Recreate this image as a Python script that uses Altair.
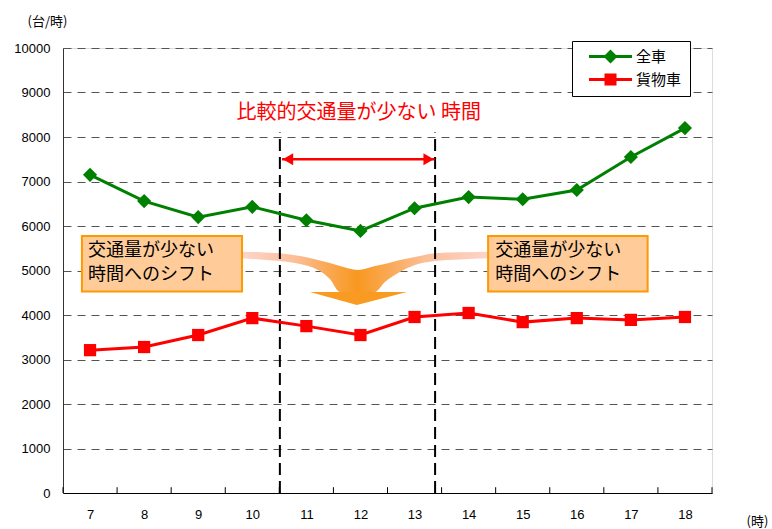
import altair as alt
import pandas as pd

# ---------------- data ----------------
hours = [7, 8, 9, 10, 11, 12, 13, 14, 15, 16, 17, 18]
all_vehicles = [7150, 6560, 6200, 6430, 6130, 5890, 6400, 6650, 6600, 6810, 7550, 8200]
freight = [3210, 3280, 3550, 3930, 3750, 3550, 3955, 4045, 3840, 3930, 3890, 3955]
series_names = ['全車', '貨物車']
series_colors = ['#008000', '#FF0000']
y_ticks = list(range(0, 10001, 1000))
tick_positions = [6.5 + k for k in range(13)]

# annotation geometry (in data units: hour / vehicles per hour)
window_hours = [10.51, 13.38]
window_top = 8100
arrow_y = 7500
arrow_from, arrow_to = 10.55, 13.37
arrow_heads = [10.66, 13.26]
label_text = '比較的交通量が少ない 時間'
label_hour, label_value = 11.97, 8540
box_lines = ['交通量が少ない', '時間へのシフト']
box_line_values = [5439, 4899]
box_x = [[6.85, 9.81], [14.36, 17.31]]
box_text_hour = [6.96, 14.49]
box_y = [4530, 5775]

band_hour = [9.809, 10.141, 10.511, 10.881, 11.213, 11.435, 11.620, 11.953,
             12.267, 12.452, 12.729, 13.006, 13.376, 13.838, 14.356]
band_top = [5422, 5411, 5387, 5326, 5236, 5169, 5101, 5011,
            5101, 5146, 5236, 5303, 5387, 5411, 5422]
band_bottom = [5274, 5247, 5213, 5146, 5011, 4809, 4517, 4517,
               4517, 4742, 4966, 5124, 5213, 5247, 5274]
head_hour = [11.066, 11.934, 12.859]
head_top = [4517, 4517, 4517]
head_bottom = [4517, 4225, 4517]

JP = 'Noto Sans CJK JP'
NUM = 'Liberation Sans'

# ---------------- tables ----------------
df = pd.DataFrame({
    'hour': hours * 2,
    'value': all_vehicles + freight,
    'series': [series_names[0]] * len(hours) + [series_names[1]] * len(hours),
})
df_all = df[df['series'] == series_names[0]]
df_fr = df[df['series'] == series_names[1]]
# legend-only rows, placed below the visible range and clipped away
legend_df = pd.DataFrame({'hour': [hours[0], hours[0]], 'value': [-5000, -5000],
                          'series': series_names})
band_df = pd.DataFrame({'hour': band_hour, 'value': band_top, 'value2': band_bottom})
head_df = pd.DataFrame({'hour': head_hour, 'value': head_top, 'value2': head_bottom})
win_df = pd.DataFrame({'hour': window_hours, 'value': [0, 0], 'value2': [window_top] * 2})
arrow_df = pd.DataFrame({'hour': [arrow_from], 'hour2': [arrow_to], 'value': [arrow_y]})
left_head_df = pd.DataFrame({'hour': [arrow_heads[0]], 'value': [arrow_y]})
right_head_df = pd.DataFrame({'hour': [arrow_heads[1]], 'value': [arrow_y]})
label_df = pd.DataFrame({'hour': [label_hour], 'value': [label_value], 'text': [label_text]})
box_df = pd.DataFrame({'hour': [b[0] for b in box_x], 'hour2': [b[1] for b in box_x],
                       'value': [box_y[0]] * 2, 'value2': [box_y[1]] * 2})
boxtext_df = pd.DataFrame({
    'hour': [h for h in box_text_hour for _ in box_lines],
    'value': box_line_values * len(box_text_hour),
    'text': box_lines * len(box_text_hour),
})
ticks_df = pd.DataFrame({'hour': tick_positions, 'value': [0] * len(tick_positions),
                         'value2': [130] * len(tick_positions)})

xscale = alt.Scale(domain=[6.5, 18.5], nice=False, zero=False)
yscale = alt.Scale(domain=[0, 10000], nice=False)
cscale = alt.Scale(domain=series_names, range=series_colors)

x_axis = alt.Axis(values=hours, format='d', ticks=False, grid=False, labelFont=NUM,
                  labelFontSize=13, labelColor='black', labelPadding=15, domainColor='black',
                  title='(時)', titleFont=JP, titleFontSize=13, titleFontWeight='normal',
                  titleColor='black', titleX=694, titleY=28, titleAlign='center',
                  titleBaseline='middle')
y_axis = alt.Axis(values=y_ticks, format='d', ticks=False, grid=True, gridDash=[8, 6],
                  gridColor='#555555', gridWidth=1, labelFont=NUM, labelFontSize=13,
                  labelColor='black', labelPadding=13, domainColor='#333333',
                  title='(台/時)', titleFont=JP, titleFontSize=13, titleFontWeight='normal',
                  titleColor='black', titleAngle=0, titleX=-16, titleY=-27,
                  titleAlign='center', titleBaseline='middle')

X = lambda f='hour': alt.X(f + ':Q', scale=xscale)
Y = lambda f='value': alt.Y(f + ':Q', scale=yscale)

base_axes = alt.Chart(df).mark_line(opacity=0).encode(
    x=alt.X('hour:Q', scale=xscale, axis=x_axis),
    y=alt.Y('value:Q', scale=yscale, axis=y_axis),
    detail='series:N',
)

band_grad = alt.Gradient(gradient='linear', x1=0, x2=1, y1=0, y2=0, stops=[
    alt.GradientStop(offset=0, color='#FDD5CB'),
    alt.GradientStop(offset=0.22, color='#FBBE96'),
    alt.GradientStop(offset=0.38, color='#F9A445'),
    alt.GradientStop(offset=0.47, color='#F89820'),
    alt.GradientStop(offset=0.56, color='#F9A445'),
    alt.GradientStop(offset=0.74, color='#FBBE96'),
    alt.GradientStop(offset=1, color='#FDD5CB'),
])
band = alt.Chart(band_df).mark_area(color=band_grad, interpolate='monotone').encode(
    x=X(), y=Y(), y2='value2:Q')
head = alt.Chart(head_df).mark_area(color='#F99B22', interpolate='linear').encode(
    x=X(), y=Y(), y2='value2:Q')

windows = alt.Chart(win_df).mark_rule(color='black', strokeWidth=2, strokeDash=[12, 6]).encode(
    x=X(), y=Y(), y2='value2:Q')

arrow = alt.Chart(arrow_df).mark_rule(color='#FF0000', strokeWidth=2.5).encode(
    x=X(), x2='hour2:Q', y=Y())
lhead = alt.Chart(left_head_df).mark_point(filled=True, opacity=1, color='#FF0000', size=144,
                                           shape='triangle-left').encode(x=X(), y=Y())
rhead = alt.Chart(right_head_df).mark_point(filled=True, opacity=1, color='#FF0000', size=144,
                                            shape='triangle-right').encode(x=X(), y=Y())

label = alt.Chart(label_df).mark_text(color='#FF0000', font=JP, fontSize=20,
                                      align='center', baseline='middle').encode(
    x=X(), y=Y(), text='text:N')

boxes = alt.Chart(box_df).mark_rect(fill='#FFCC99', stroke='#FF9900', strokeWidth=2).encode(
    x=X(), x2='hour2:Q', y=Y(), y2='value2:Q')
box_text = alt.Chart(boxtext_df).mark_text(color='black', font=JP, fontSize=18,
                                           align='left', baseline='middle').encode(
    x=X(), y=Y(), text='text:N')

line_all = alt.Chart(df_all).mark_line(strokeWidth=3, color=series_colors[0]).encode(
    x=X(), y=Y())
line_fr = alt.Chart(df_fr).mark_line(strokeWidth=3, color=series_colors[1]).encode(
    x=X(), y=Y())

diamonds = alt.Chart(df_all).mark_point(filled=True, opacity=1, shape='diamond', size=200,
                                        color=series_colors[0]).encode(x=X(), y=Y())
squares = alt.Chart(df_fr).mark_point(filled=True, opacity=1, shape='square', size=150,
                                      color=series_colors[1]).encode(x=X(), y=Y())

# legend: line + marker symbols as custom paths
diamond_path = ('M-4.3,-0.3L-1.1,-0.3L0,-1.4L1.1,-0.3L4.3,-0.3L4.3,0.3L1.1,0.3'
                'L0,1.4L-1.1,0.3L-4.3,0.3Z')
square_path = ('M-4.3,-0.3L-1.2,-0.3L-1.2,-1.2L1.2,-1.2L1.2,-0.3L4.3,-0.3L4.3,0.3'
               'L1.2,0.3L1.2,1.2L-1.2,1.2L-1.2,0.3L-4.3,0.3Z')

def make_legend():
    return alt.Legend(
        title=None, orient='none', legendX=509, legendY=-7, padding=8,
        strokeColor='black', fillColor='white', symbolSize=100, symbolOffset=23,
        labelOffset=18, rowPadding=7, labelFont=JP, labelFontSize=15, labelColor='black',
        symbolStrokeWidth=0, symbolOpacity=1,
    )

legend_layer = alt.Chart(legend_df).mark_point(filled=True, opacity=1, clip=True).encode(
    x=X(), y=Y(),
    color=alt.Color('series:N', scale=cscale, legend=make_legend()),
    shape=alt.Shape('series:N', scale=alt.Scale(domain=series_names,
                                                range=[diamond_path, square_path]),
                    legend=make_legend()),
)

xticks = alt.Chart(ticks_df).mark_rule(color='black', strokeWidth=1).encode(
    x=X(), y=Y(), y2='value2:Q')

chart = alt.layer(
    base_axes, band, head, windows, arrow, lhead, rhead, label, boxes, box_text,
    line_all, line_fr, diamonds, squares, legend_layer, xticks,
).properties(
    width=649, height=445,
    padding={'left': 63, 'top': 48, 'right': 60, 'bottom': 36},
    autosize='none',
).configure_view(stroke=None).configure(background='white')

chart.save('out.html', embed_options={'renderer': 'svg', 'actions': False})
